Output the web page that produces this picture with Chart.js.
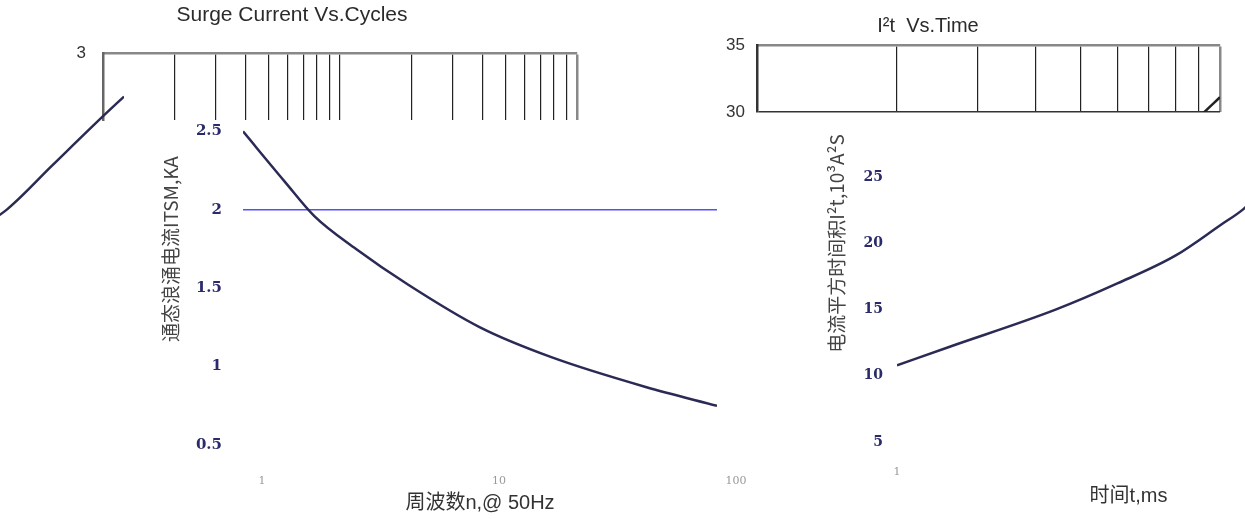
<!DOCTYPE html>
<html>
<head>
<meta charset="utf-8">
<script src="https://cdn.jsdelivr.net/npm/chart.js@4.4.0/dist/chart.umd.min.js"></script>
<style>
  html, body { margin: 0; padding: 0; width: 1245px; height: 519px; overflow: hidden; background: #fff; }
  canvas { position: absolute; top: 0; }
</style>
</head>
<body>
<canvas id="leftFrame" width="1245" height="519" style="left:0"></canvas>
<canvas id="leftMain" width="1245" height="519" style="left:0"></canvas>
<canvas id="rightFrame" width="1245" height="519" style="left:0"></canvas>
<canvas id="rightMain" width="1400" height="519" style="left:0"></canvas>
<canvas id="rightWrap" width="1400" height="519" style="left:-1236px"></canvas>
<script>
// surge current vs cycles
const cycles = [1, 1.5, 2, 3, 5, 10, 20, 50, 100];
const surgeKA = [2.5, 2.18, 1.96, 1.75, 1.52, 1.25, 1.06, 0.87, 0.75];
const cycleTicks = [1, 10, 100];
const cycleGrid = [1, 2, 3, 4, 5, 6, 7, 8, 9, 10, 20, 30, 40, 50, 60, 70, 80, 90, 100];
const surgeTicks = [0.5, 1, 1.5, 2, 2.5];

// I2t vs time
const timeMs = [1, 1.3, 2.2, 3, 4, 5, 5.6, 7, 9, 10];
const i2t = [10.8, 12.2, 15.0, 17.0, 19.1, 21.4, 22.6, 25.9, 29.6, 31.1];
const timeTicks = [1, 10];
const timeGrid = [1, 2, 3, 4, 5, 6, 7, 8, 9, 10];
const i2tTicks = [5, 10, 15, 20, 25];

const sans = "'Liberation Sans', 'Noto Sans CJK SC', sans-serif";
const cjk = "'Noto Sans CJK SC', 'Liberation Sans', sans-serif";
const serif = "'DejaVu Serif', serif";
const curveColor = '#2a2a55';
const noPlugins = { legend: { display: false }, tooltip: { enabled: false } };

const toXY = (xs, ys) => xs.map((x, i) => ({ x: x, y: ys[i] }));

// grey frame on top of the left chart
new Chart(document.getElementById('leftFrame'), {
  type: 'line',
  data: { datasets: [] },
  options: {
    responsive: false,
    animation: false,
    layout: { padding: { left: 7, right: 668, top: 0, bottom: 399 } },
    plugins: {
      legend: { display: false },
      tooltip: { enabled: false },
      title: {
        display: true,
        text: 'Surge Current Vs.Cycles',
        color: '#2b2b2b',
        font: { family: sans, size: 21, weight: 'normal' },
        padding: { top: 3, bottom: 25 }
      }
    },
    scales: {
      x: {
        type: 'logarithmic', position: 'top', min: 1, max: 100,
        afterBuildTicks: s => { s.ticks = cycleGrid.map(v => ({ value: v })); },
        afterFit: s => { s.height = 0; },
        ticks: { display: false },
        grid: {
          drawTicks: false,
          color: c => c.tick.value === 100 ? '#888' : (c.tick.value === 1 ? 'rgba(0,0,0,0)' : '#222'),
          lineWidth: c => c.tick.value === 100 ? 2.5 : 1.2
        },
        border: { color: '#888', width: 2.5 }
      },
      y: {
        min: 2.573, max: 3,
        afterBuildTicks: s => { s.ticks = [{ value: 3 }]; },
        afterFit: s => { s.width = 96; },
        ticks: { padding: 17, color: '#333', font: { family: sans, size: 17 } },
        grid: { display: false, drawTicks: false },
        border: { color: '#666', width: 2.5 }
      }
    }
  }
});

// left chart: surge current
new Chart(document.getElementById('leftMain'), {
  type: 'line',
  data: {
    datasets: [{
      data: toXY(cycles, surgeKA),
      borderColor: curveColor,
      borderWidth: 2.5,
      pointRadius: 0,
      cubicInterpolationMode: 'monotone',
      fill: false
    }]
  },
  options: {
    responsive: false,
    animation: false,
    layout: { padding: { left: 155, right: 528, top: 53, bottom: 0 } },
    plugins: noPlugins,
    scales: {
      x: {
        type: 'logarithmic', min: 1, max: 100,
        afterBuildTicks: s => { s.ticks = cycleTicks.map(v => ({ value: v })); },
        afterFit: s => { s.height = 74; },
        grid: { display: false },
        border: { display: false },
        ticks: {
          autoSkip: false, maxRotation: 0, padding: 22, labelOffset: 19,
          color: '#999', font: { family: serif, size: 11 },
          callback: v => String(v)
        },
        title: {
          display: true, text: '周波数n,@ 50Hz', color: '#333',
          font: { family: sans, size: 20 }, padding: { top: 4, bottom: 4 }
        }
      },
      y: {
        min: 0.5, max: 3,
        afterBuildTicks: s => { s.ticks = surgeTicks.map(v => ({ value: v })); },
        afterFit: s => { s.width = 88; },
        grid: {
          drawTicks: false,
          color: c => c.tick && c.tick.value === 2 ? '#5050ff' : 'rgba(0,0,0,0)',
          lineWidth: 1.5
        },
        border: { display: false },
        ticks: {
          padding: 21, color: '#2b2b6b', font: { family: serif, size: 15, weight: 'bold' },
          callback: v => String(v)
        },
        title: {
          display: true, text: '通态浪涌电流ITSM,KA', color: '#444',
          font: { family: cjk, size: 19 }, padding: { top: 4, bottom: 4 }
        }
      }
    }
  }
});

// grey frame on top of the right chart
new Chart(document.getElementById('rightFrame'), {
  type: 'line',
  data: {
    datasets: [{
      data: toXY(timeMs, i2t),
      borderColor: '#222',
      borderWidth: 2.5,
      pointRadius: 0,
      cubicInterpolationMode: 'monotone',
      fill: false
    }]
  },
  options: {
    responsive: false,
    animation: false,
    layout: { padding: { left: 636, right: 25, top: 0, bottom: 407 } },
    plugins: {
      legend: { display: false },
      tooltip: { enabled: false },
      title: {
        display: true,
        text: 'I²t  Vs.Time',
        color: '#2b2b2b',
        font: { family: sans, size: 20, weight: 'normal' },
        padding: { top: 14, bottom: 7 }
      }
    },
    scales: {
      x: {
        type: 'logarithmic', position: 'top', min: 1, max: 10,
        afterBuildTicks: s => { s.ticks = timeGrid.map(v => ({ value: v })); },
        afterFit: s => { s.height = 0; },
        ticks: { display: false },
        grid: {
          drawTicks: false,
          color: c => c.tick.value === 10 ? '#888' : (c.tick.value === 1 ? 'rgba(0,0,0,0)' : '#222'),
          lineWidth: c => c.tick.value === 10 ? 2.5 : 1.2
        },
        border: { color: '#888', width: 2.5 }
      },
      y: {
        min: 30, max: 35,
        afterBuildTicks: s => { s.ticks = [{ value: 30 }, { value: 35 }]; },
        afterFit: s => { s.width = 121; },
        ticks: { padding: 12, color: '#333', font: { family: sans, size: 17 } },
        grid: {
          drawTicks: false,
          color: c => c.tick && c.tick.value === 30 ? '#333' : 'rgba(0,0,0,0)',
          lineWidth: 1.5
        },
        border: { color: '#333', width: 2.5 }
      }
    }
  }
});

function i2tConfig(showText) {
  return {
    type: 'line',
    data: {
      datasets: [{
        data: toXY(timeMs, i2t),
        borderColor: curveColor,
        borderWidth: 2.5,
        pointRadius: 0,
        cubicInterpolationMode: 'monotone',
        fill: false
      }]
    },
    options: {
      responsive: false,
      animation: false,
      layout: { padding: { left: 821, right: 40, top: 45, bottom: 7 } },
      plugins: noPlugins,
      scales: {
        x: {
          type: 'logarithmic', min: 1, max: 10,
          afterBuildTicks: s => { s.ticks = timeTicks.map(v => ({ value: v })); },
          afterFit: s => { s.height = 70; },
          grid: { display: false },
          border: { display: false },
          ticks: {
            display: showText, autoSkip: false, maxRotation: 0, padding: 16,
            color: '#999', font: { family: serif, size: 11 },
            callback: v => String(v)
          },
          title: {
            display: showText, text: '时间t,ms', color: '#333',
            font: { family: sans, size: 20 }, padding: { top: 4, bottom: 4 }
          }
        },
        y: {
          min: 5, max: 35,
          afterBuildTicks: s => { s.ticks = i2tTicks.map(v => ({ value: v })); },
          afterFit: s => { s.width = 76; },
          grid: { display: false, drawTicks: false },
          border: { display: false },
          ticks: { display: showText, padding: 14, color: '#2b2b6b', font: { family: serif, size: 14, weight: 'bold' } },
          title: {
            display: showText, text: '电流平方时间积I²t,10³A²S', color: '#444',
            font: { family: cjk, size: 19 }, padding: { top: 4, bottom: 4 }
          }
        }
      }
    }
  };
}

// right chart: I2t
new Chart(document.getElementById('rightMain'), i2tConfig(true));
// the same curve, wrapped round to the left edge of the picture
new Chart(document.getElementById('rightWrap'), i2tConfig(false));
</script>
</body>
</html>
